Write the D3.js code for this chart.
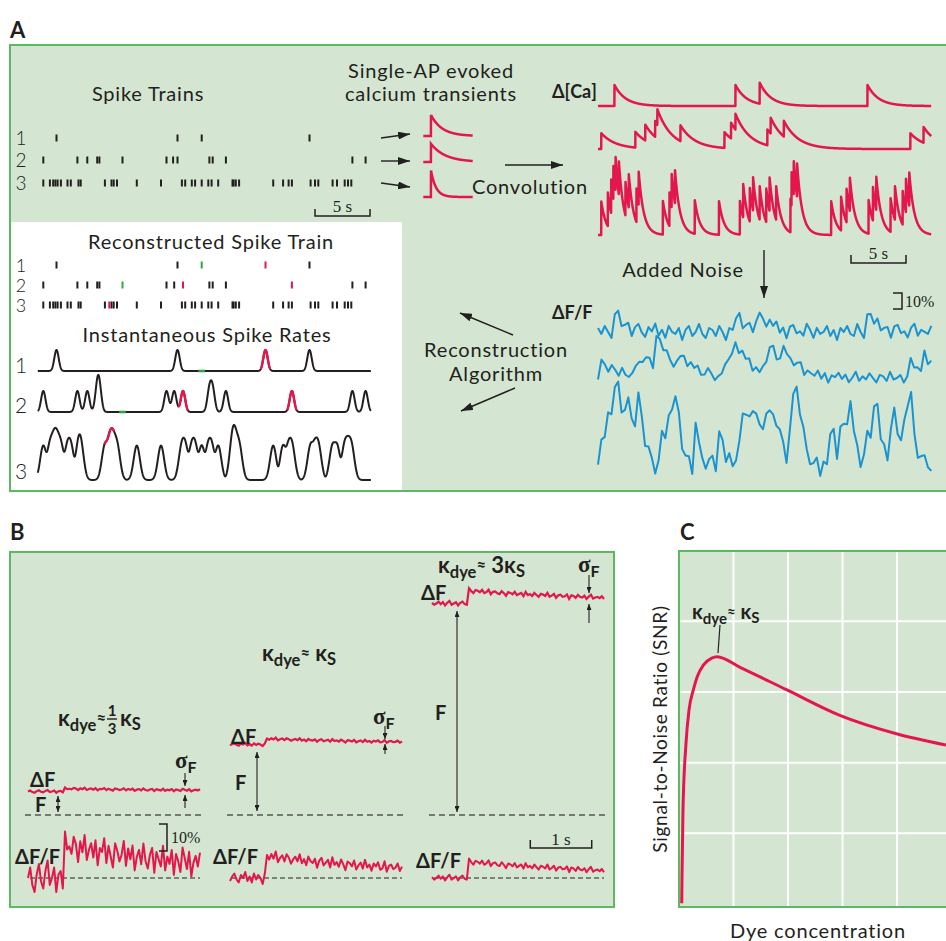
<!DOCTYPE html>
<html>
<head>
<meta charset="utf-8">
<script src="https://cdn.jsdelivr.net/npm/d3@7"></script>
<style>
  body { margin: 0; background: #fff; }
  svg { display: block; }
</style>
</head>
<body>
<div id="fig"></div>
<script>
// ---------- datos ----------
// tiempos de espigas (s)
const train1 = [1.5, 12.5, 14.7, 24.5];
const train2 = [0.3, 3.4, 4.3, 5.2, 5.4, 7.5, 11.5, 12.1, 12.5, 15.4, 15.7, 16.9, 28.4, 29.6];
const train3 = [0.3, 0.9, 1.2, 1.4, 1.6, 1.9, 2.5, 2.8, 3.5, 3.7, 5.9, 6.5, 6.7, 7.0, 8.8, 11.0,
  12.9, 13.2, 13.8, 14.1, 14.7, 15.3, 15.6, 16.2, 17.5, 17.6, 17.8, 18.1, 21.2, 22.1, 22.6, 22.9,
  24.6, 25.0, 25.3, 26.6, 27.0, 27.7, 28.0, 28.3];

// reconstruccion: detectadas, perdidas (verde), falsas (rojo)
const recon1 = [1.5, 12.5, 24.5];
const missed1 = [14.7];
const extra1 = [20.5];
const recon2 = [0.3, 3.4, 4.3, 5.2, 5.4, 11.5, 12.2, 15.4, 15.7, 16.9, 28.4, 29.6];
const missed2 = [7.5];
const extra2 = [13.0, 22.9];
const recon3 = train3;
const missed3 = [];
const extra3 = [6.3];

// transitorios de calcio por espiga (amplitud relativa, tau en s)
const caAmp = [1, 0.75, 1.6];
const caTau = [1.0, 1.3, 0.45];
// dF/F (%) por unidad de calcio y ganancia de ruido
const dffPerCa = [10, 13, 14];
const noiseGainA = [1.25, 0.95, 1.55];

// ruido leido a ojo (en %)
const noiseA1 = [2,-1,3,0,-3,1,4,-2,0,2,-4,1,3,-1,-3,2,0,4,-2,1,-3,3,0,-1,2,-4,1,3,-2,0,4,-1,-3,2,1,-2,3,0,-4,2,1,-1,3,-3,0,2,-2,4,1,-1,-3,2,0,3,-2,1,-4,2,3,-1,0,-2,4,1,-3,2,-1,0,3,-2,1,-4,2,0,3,-1,-2,4,0,-3,1,2,-1,3,-2,0,1,-4,2,3,-1,0,-3,2,4,-2,1,0,-1,3];
const noiseA2 = [-1,2,0,-3,3,1,-2,4,0,-1,2,-3,1,3,-2,0,-4,2,1,-1,3,0,-2,4,-1,1,-3,2,0,3,-2,-1,4,1,-3,0,2,-2,3,-1,1,-4,2,0,3,-3,1,-1,4,-2,0,2,-3,1,3,-1,0,-2,2,4,-3,1,0,-1,3,-2,2,-4,1,0,3,-1,2,-3,0,4,-2,1,-1,3,0,-3,2,1,-2,4,-1,0,2,-3,1,3,-2,0,-1,4,-3,2];
const noiseA3 = [1,-3,2,4,-2,0,3,-4,1,2,-1,-3,4,0,-2,3,1,-4,2,0,-1,3,-3,1,4,-2,0,2,-4,3,1,-1,-3,2,4,-2,0,1,-3,3,-1,2,-4,0,4,1,-2,3,-3,0,2,-1,4,-4,1,3,-2,0,-1,2,-3,4,1,-2,0,3,-4,2,1,-1,3,-3,0,4,-2,2,-1,1,-4,3,0,-2,4,1,-3,2,-1,0,3,-4,2,1,-2,4,0,-3,1,3,-1,-2];

// panel B: F relativo del colorante, salto de dF/F (%), ganancia de ruido
const dyeF = [1, 3, 9];
const dffStep = [12, 8, 6];
const noiseGainB = [1.3, 0.55, 0.3];
const stepTime = 0.6;
const decayTau = 2.8;
const noiseB1 = [0,3,-2,-4,1,4,-1,-3,2,5,-2,0,3,-4,1,2,-3,4,-1,0,-2,3,1,-4,2,-1,4,-3,0,2,-2,3,-4,1,0,4,-3,2,-1,-4,3,1,-2,0,4,-3,2,-1,3,-4,0,2,-2,4,-1,-3,1,3,-4,2,0,-2,4,-3,1,-1,3,-4,2,0,-3,4,1,-2,3,-4,0,2,-1,3];
const noiseB2 = [-2,1,3,-1,-3,2,0,4,-2,1,-3,3,-1,2,0,-4,3,1,-2,2,-1,4,-3,0,2,-2,3,1,-3,0,2,-1,4,-2,1,-3,3,0,-1,2,-4,1,3,-2,0,2,-3,4,-1,1,-2,3,0,-4,2,1,-1,3,-3,0,2,-2,4,-1,1,-3,2,0,3,-2,-1,4,-3,1,2,-1,0,3,-2,1];
const noiseB3 = [1,-2,0,3,-1,2,-3,1,4,-2,0,2,-3,1,3,-1,-2,4,0,-3,2,1,-1,3,-2,0,4,-3,1,2,-1,-2,3,0,-4,2,1,-1,3,-2,0,2,-3,4,-1,1,-2,3,0,-3,2,1,-1,4,-2,0,3,-3,1,2,-1,0,3,-4,2,1,-2,3,0,-1,2,-3,1,4,-2,0,1,-1,2,-2];

// panel C: SNR vs concentracion
const snrConc = [0.05, 0.055, 0.073, 0.128, 0.183, 0.263, 0.336, 0.446, 0.6, 0.70, 1.12, 1.98, 2.95, 3.99, 4.9];
const snrValue = [0.01, 0.39, 1.33, 2.27, 2.74, 3.03, 3.22, 3.38, 3.48, 3.50, 3.35, 3.03, 2.67, 2.41, 2.25];

// ---------- estilos ----------
const INK = "#231f20", RED = "#e3174b", BLUE = "#1b93d1";
const GBG = "#d4e6d1", GLINE = "#5db862", MISS = "#2fa54a";
const SANS = "Lato, 'Open Sans', sans-serif";
const SERIF = "'Liberation Serif', 'DejaVu Serif', serif";

const svg = d3.select("#fig").append("svg")
  .attr("width", 946).attr("height", 941)
  .style("font-family", SANS);

const defs = svg.append("defs");
function marker(id, len, wid) {
  defs.append("marker").attr("id", id)
    .attr("viewBox", `0 0 ${len} ${wid}`)
    .attr("refX", len).attr("refY", wid / 2)
    .attr("markerWidth", len).attr("markerHeight", wid)
    .attr("markerUnits", "userSpaceOnUse")
    .attr("orient", "auto-start-reverse")
    .append("path").attr("d", `M0,0L${len},${wid / 2}L0,${wid}Z`).attr("fill", INK);
}
marker("ah", 12, 8);
marker("ahs", 6, 5);

function arrow(x1, y1, x2, y2, id = "ah", both = false, w = 1.4) {
  const l = svg.append("line")
    .attr("x1", x1).attr("y1", y1).attr("x2", x2).attr("y2", y2)
    .attr("stroke", INK).attr("stroke-width", w)
    .attr("marker-end", `url(#${id})`);
  if (both) l.attr("marker-start", `url(#${id})`);
}

function txt(x, y, s, size, anchor = "start", weight = 400, family = SANS) {
  return svg.append("text").attr("x", x).attr("y", y)
    .attr("font-size", size).attr("text-anchor", anchor)
    .attr("font-weight", weight).attr("font-family", family)
    .attr("fill", INK).text(s);
}
// etiquetas largas (fuente ancha tipo Avenir)
function lab(x, y, s, size = 20, anchor = "middle") {
  return txt(x, y, s, size, anchor).attr("letter-spacing", 0.8);
}

function kappa(x, y, pre, size = 22) {
  const t = svg.append("text").attr("x", x).attr("y", y)
    .attr("font-size", size).attr("font-weight", 700).attr("fill", INK);
  t.append("tspan").text("κ");
  t.append("tspan").attr("font-size", size * 0.75).attr("dy", 5).text("dye");
  t.append("tspan").attr("font-size", size * 0.75).attr("dy", -7).text("≈");
  t.append("tspan").attr("dy", 2).text(pre + "κ");
  t.append("tspan").attr("font-size", size * 0.75).attr("dy", 4).text("S");
  return t;
}

function sigmaF(x, y) {
  const t = svg.append("text").attr("x", x).attr("y", y).attr("fill", INK).attr("font-weight", 700);
  t.append("tspan").attr("font-family", SERIF).attr("font-size", 23).text("σ");
  t.append("tspan").attr("font-size", 16).attr("dy", 5).text("F");
}

const line = d3.line().x(d => d[0]).y(d => d[1]);

// ================= PANEL A =================
txt(10, 38, "A", 22, "start", 700);
svg.append("rect").attr("x", 10).attr("y", 45).attr("width", 960).attr("height", 446)
  .attr("fill", GBG);
svg.append("rect").attr("x", 10).attr("y", 222).attr("width", 392).attr("height", 269)
  .attr("fill", "#fff");
svg.append("rect").attr("x", 10).attr("y", 45).attr("width", 960).attr("height", 446)
  .attr("fill", "none").attr("stroke", GLINE).attr("stroke-width", 2);

const tL = d3.scaleLinear().domain([0, 30]).range([40, 370]);
const tR = d3.scaleLinear().domain([0, 30]).range([598, 928]);

// trenes de espigas
lab(148, 101, "Spike Trains");
const trains = [train1, train2, train3];
const trainY = [138, 160, 183];
trains.forEach((tr, i) => {
  txt(21, trainY[i] + 7, String(i + 1), 19, "middle", 300);
  svg.append("g").selectAll("line").data(tr).join("line")
    .attr("x1", d => tL(d)).attr("x2", d => tL(d))
    .attr("y1", trainY[i] - 3.5).attr("y2", trainY[i] + 3.5)
    .attr("stroke", INK).attr("stroke-width", 2);
});
// barra 5 s
svg.append("path").attr("d", `M${tL(25)},209V216H${tL(30)}V209`)
  .attr("fill", "none").attr("stroke", INK).attr("stroke-width", 1.5);
txt((tL(25) + tL(30)) / 2, 212, "5 s", 17, "middle", 400, SERIF);

// flechas hacia kernels
arrow(381, 138, 410, 134);
arrow(381, 161, 410, 161);
arrow(381, 183, 410, 187);

lab(431, 78, "Single-AP evoked");
lab(431, 101, "calcium transients");

// kernels de un solo PA
const kT = d3.range(-0.7, 3.8, 0.01);
const kX = d3.scaleLinear().domain([0, 1]).range([431, 442]);
const kY = d3.scaleSqrt().domain([0, 1]).range([0, 21]);
const kBase = [136, 162, 197];
caAmp.forEach((a, i) => {
  const pts = kT.map(t => [kX(t), kBase[i] - (t >= 0 ? kY(a) * Math.exp(-t / caTau[i]) : 0)]);
  svg.append("path").attr("d", line(pts)).attr("fill", "none")
    .attr("stroke", RED).attr("stroke-width", 2.5);
});

arrow(505, 165, 563, 165);
lab(530, 194, "Convolution");

// trazas de calcio
function caValue(spikes, tau, t) {
  let v = 0;
  for (const s of spikes) if (t >= s) v += Math.exp(-(t - s) / tau);
  return v;
}
const caY = d3.scaleLinear().domain([0, 1]).range([0, 21]);
const caBase = [106, 149, 235];
const tGrid = d3.range(0, 30.3, 0.01);
txt(552, 98, "Δ[Ca]", 18, "start", 700);
trains.forEach((tr, i) => {
  const pts = tGrid.map(t => [tR(t), caBase[i] - caY(caAmp[i] * caValue(tr, caTau[i], t))]);
  svg.append("path").attr("d", line(pts)).attr("fill", "none")
    .attr("stroke", RED).attr("stroke-width", 2.5).attr("stroke-linejoin", "round");
});
svg.append("path").attr("d", `M${tR(23)},255V263H${tR(28)}V255`)
  .attr("fill", "none").attr("stroke", INK).attr("stroke-width", 1.5);
txt((tR(23) + tR(28)) / 2, 259, "5 s", 17, "middle", 400, SERIF);

lab(683, 277, "Added Noise");
arrow(764, 250, 764, 298);

// trazas dF/F con ruido (cada muestra toma el maximo de calcio en su intervalo)
const dffY = d3.scaleLinear().domain([0, 10]).range([0, 16]);
const blueBase = [332, 378, 467];
const noisesA = [noiseA1, noiseA2, noiseA3];
txt(552, 319, "ΔF/F", 18, "start", 700);
trains.forEach((tr, i) => {
  const nz = noisesA[i];
  const dt = 30.3 / (nz.length - 1);
  const pts = nz.map((n, k) => {
    const t = k * dt;
    const ca = d3.max(d3.range(t - dt / 2, t + dt / 2, 0.02), u => caValue(tr, caTau[i], u));
    const v = caAmp[i] * ca * dffPerCa[i] + n * noiseGainA[i];
    return [tR(t), blueBase[i] - dffY(v)];
  });
  svg.append("path").attr("d", line(pts)).attr("fill", "none")
    .attr("stroke", BLUE).attr("stroke-width", 2).attr("stroke-linejoin", "round");
});
svg.append("path").attr("d", `M893,${309 - dffY(10)}H902V309H893`)
  .attr("fill", "none").attr("stroke", INK).attr("stroke-width", 1.5);
txt(905, 307, "10%", 16, "start", 400, SERIF);

lab(496, 357, "Reconstruction");
lab(496, 381, "Algorithm");
arrow(513, 335, 460, 313);
arrow(515, 388, 461, 411);

// tren reconstruido
lab(211, 249, "Reconstructed Spike Train");
const recon = [recon1, recon2, recon3];
const missed = [missed1, missed2, missed3];
const extra = [extra1, extra2, extra3];
const reconY = [265, 285, 305];
recon.forEach((tr, i) => {
  txt(21, reconY[i] + 6.5, String(i + 1), 18, "middle", 300);
  const ticks = tr.map(t => ({ t, c: INK }))
    .concat(missed[i].map(t => ({ t, c: MISS })))
    .concat(extra[i].map(t => ({ t, c: RED })));
  svg.append("g").selectAll("line").data(ticks).join("line")
    .attr("x1", d => tL(d.t)).attr("x2", d => tL(d.t))
    .attr("y1", reconY[i] - 3.5).attr("y2", reconY[i] + 3.5)
    .attr("stroke", d => d.c).attr("stroke-width", 2);
});

// tasas instantaneas
lab(207, 342, "Instantaneous Spike Rates");
const rateBase = [371, 412, 480];
const rateLabelY = [373, 413, 479];
const sigma = 0.2;
const rT = d3.range(-0.2, 30.1, 0.02);
recon.forEach((tr, i) => {
  const all = tr.concat(extra[i]);
  const vals = rT.map(t => [t, d3.sum(all, s => Math.exp(-((t - s) ** 2) / (2 * sigma * sigma)))]);
  const ys = i < 2
    ? d3.scaleLinear().domain([0, 1]).range([rateBase[i], rateBase[i] - 21])
    : d3.scalePow().exponent(0.5).domain([0, d3.max(vals, d => d[1])]).range([rateBase[i], rateBase[i] - 55]);
  const pts = vals.map(d => [tL(d[0]), ys(d[1])]);
  txt(21, rateLabelY[i], String(i + 1), 21, "middle", 300);
  svg.append("path").attr("d", line(pts)).attr("fill", "none")
    .attr("stroke", INK).attr("stroke-width", 2).attr("stroke-linejoin", "round");
  extra[i].forEach(f => {
    const seg = vals.filter(d => d[0] >= f - 0.45 && d[0] <= f + 0.45).map(d => [tL(d[0]), ys(d[1])]);
    svg.append("path").attr("d", line(seg)).attr("fill", "none")
      .attr("stroke", RED).attr("stroke-width", 2.4);
  });
  missed[i].forEach(m => {
    svg.append("line").attr("x1", tL(m - 0.3)).attr("x2", tL(m + 0.3))
      .attr("y1", rateBase[i]).attr("y2", rateBase[i])
      .attr("stroke", MISS).attr("stroke-width", 2.6);
  });
});

// ================= PANEL B =================
txt(10, 540, "B", 22, "start", 700);
svg.append("rect").attr("x", 10).attr("y", 552).attr("width", 604).attr("height", 355)
  .attr("fill", GBG).attr("stroke", GLINE).attr("stroke-width", 2);

const tB = d3.scaleLinear().domain([0, 2.8]).range([0, 172]);
const colX = [28, 230, 432];
const yF = d3.scaleLinear().domain([0, 1]).range([815, 791.5]);
const yD = d3.scaleLinear().domain([0, 10]).range([878, 851]);
const noisesB = [noiseB1, noiseB2, noiseB3];

dyeF.forEach((F, i) => {
  const x0 = colX[i];
  const nz = noisesB[i];
  const dff = nz.map((n, k) => {
    const t = k / (nz.length - 1) * 2.8;
    const s = t >= stepTime ? dffStep[i] * Math.exp(-(t - stepTime) / decayTau) : 0;
    return [t, s + n * noiseGainB[i]];
  });
  svg.append("line").attr("x1", x0 - 3).attr("x2", x0 + 175).attr("y1", yF(0)).attr("y2", yF(0))
    .attr("stroke", "#555").attr("stroke-width", 1.4).attr("stroke-dasharray", "6,4");
  svg.append("line").attr("x1", x0 + 2).attr("x2", x0 + 172).attr("y1", yD(0)).attr("y2", yD(0))
    .attr("stroke", INK).attr("stroke-width", 1.2).attr("stroke-dasharray", "5,3");
  svg.append("path").attr("d", line(dff.map(d => [x0 + tB(d[0]), yF(F * (1 + d[1] / 100))])))
    .attr("fill", "none").attr("stroke", RED).attr("stroke-width", 2.2);
  svg.append("path").attr("d", line(dff.map(d => [x0 + tB(d[0]), yD(d[1])])))
    .attr("fill", "none").attr("stroke", RED).attr("stroke-width", 2).attr("stroke-linejoin", "round");
});

// kappa con fraccion 1/3
{
  const k1 = svg.append("text").attr("x", 58).attr("y", 726).attr("font-size", 22)
    .attr("font-weight", 700).attr("fill", INK);
  k1.append("tspan").text("κ");
  k1.append("tspan").attr("font-size", 16.5).attr("dy", 5).text("dye");
  k1.append("tspan").attr("font-size", 16.5).attr("dy", -7).text("≈");
  const w = k1.node().getComputedTextLength();
  const fx = 58 + w + 6;
  txt(fx, 716, "1", 15, "middle", 700);
  svg.append("line").attr("x1", fx - 5).attr("x2", fx + 5).attr("y1", 719).attr("y2", 719)
    .attr("stroke", INK).attr("stroke-width", 1.4);
  txt(fx, 734, "3", 15, "middle", 700);
  const t2 = svg.append("text").attr("x", fx + 8).attr("y", 726).attr("font-size", 22)
    .attr("font-weight", 700).attr("fill", INK);
  t2.append("tspan").text("κ");
  t2.append("tspan").attr("font-size", 16.5).attr("dy", 4).text("S");
}
kappa(262, 661, " ");
kappa(438, 573, " 3");

txt(30, 787, "ΔF", 20, "start", 700);
txt(35, 812, "F", 20, "start", 700);
arrow(58, 796, 58, 812, "ahs", true, 1.1);
sigmaF(175, 768);
arrow(185, 773, 185, 786, "ahs", false, 1.1);
arrow(185, 808, 185, 795, "ahs", false, 1.1);

txt(231, 744, "ΔF", 20, "start", 700);
txt(235, 790, "F", 20, "start", 700);
arrow(257, 752, 257, 811, "ahs", true, 1.1);
sigmaF(373, 724);
arrow(385, 726, 385, 739, "ahs", false, 1.1);
arrow(385, 754, 385, 744, "ahs", false, 1.1);

txt(421, 600, "ΔF", 20, "start", 700);
txt(435, 720, "F", 20, "start", 700);
arrow(457, 611, 457, 812, "ahs", true, 1.1);
sigmaF(578, 572);
arrow(589, 575, 589, 593, "ahs", false, 1.1);
arrow(589, 623, 589, 604, "ahs", false, 1.1);

txt(15, 864, "ΔF/F", 20, "start", 700);
txt(213, 864, "ΔF/F", 20, "start", 700);
txt(416, 868, "ΔF/F", 20, "start", 700);

svg.append("path").attr("d", `M159,${yD(20)}H167V${yD(10)}H159`)
  .attr("fill", "none").attr("stroke", INK).attr("stroke-width", 1.5);
txt(171, 843, "10%", 16, "start", 400, SERIF);
svg.append("path").attr("d", `M${colX[2] + tB(1.6)},840V848H${colX[2] + tB(2.6)}V840`)
  .attr("fill", "none").attr("stroke", INK).attr("stroke-width", 1.5);
txt(colX[2] + tB(2.1), 845, "1 s", 17, "middle", 400, SERIF);

// ================= PANEL C =================
txt(680, 540, "C", 22, "start", 700);
const xC = d3.scaleLinear().domain([0, 5]).range([679, 951.5]);
const yC = d3.scaleLinear().domain([0, 5]).range([904, 550.7]);
svg.append("rect").attr("x", 679).attr("y", 551).attr("width", 300).attr("height", 356)
  .attr("fill", GBG);
const grid = svg.append("g").attr("stroke", "#fff").attr("stroke-width", 2);
grid.selectAll(".v").data([1, 2, 3, 4]).join("line")
  .attr("x1", d => xC(d)).attr("x2", d => xC(d)).attr("y1", 551).attr("y2", 907);
grid.selectAll(".h").data([1, 2, 3, 4]).join("line")
  .attr("y1", d => yC(d)).attr("y2", d => yC(d)).attr("x1", 679).attr("x2", 946);
svg.append("rect").attr("x", 679).attr("y", 551).attr("width", 300).attr("height", 356)
  .attr("fill", "none").attr("stroke", GLINE).attr("stroke-width", 2);

const snr = snrConc.map((c, i) => [xC(c), yC(snrValue[i])]);
svg.append("path")
  .attr("d", d3.line().curve(d3.curveMonotoneX)(snr))
  .attr("fill", "none").attr("stroke", RED).attr("stroke-width", 3);
kappa(692, 619, " ", 20);
svg.append("line").attr("x1", 720).attr("y1", 625).attr("x2", 718).attr("y2", 653)
  .attr("stroke", INK).attr("stroke-width", 1.2);

svg.append("text").attr("transform", "translate(667,729) rotate(-90)")
  .attr("text-anchor", "middle").attr("font-size", 19).attr("letter-spacing", 0.7)
  .attr("fill", INK).text("Signal-to-Noise Ratio (SNR)");
lab(818, 938, "Dye concentration", 20);
</script>
</body>
</html>
